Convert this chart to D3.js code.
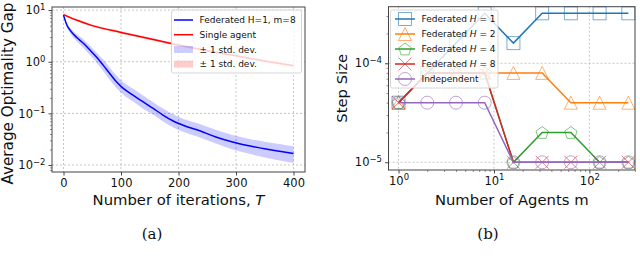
<!DOCTYPE html>
<html>
<head>
<meta charset="utf-8">
<script src="https://cdn.jsdelivr.net/npm/d3@7"></script>
<style>
  body { margin: 0; background: #fff; }
  svg { display: block; font-family: "DejaVu Sans", sans-serif; }
</style>
</head>
<body>
<div id="chart"></div>
<script>
// ---- panel (a): optimality gap vs iterations ----
const iterT      = [0, 6, 12, 23, 35, 46, 58, 69, 81, 92, 104, 121, 138, 156, 173, 190, 208, 237, 265, 294, 323, 352, 381, 400];
const fedMean    = [8.0, 5.1, 4.0, 2.95, 2.26, 1.68, 1.21, 0.86, 0.58, 0.41, 0.305, 0.226, 0.168, 0.125, 0.093, 0.072, 0.059, 0.046, 0.035, 0.028, 0.0236, 0.0204, 0.018, 0.0168];
const fedUpper   = [8.4, 5.6, 4.5, 3.4, 2.7, 2.05, 1.5, 1.1, 0.76, 0.54, 0.40, 0.30, 0.225, 0.165, 0.124, 0.097, 0.079, 0.062, 0.048, 0.038, 0.032, 0.028, 0.025, 0.023];
const fedLower   = [7.6, 4.6, 3.5, 2.5, 1.85, 1.35, 0.95, 0.66, 0.44, 0.31, 0.23, 0.17, 0.125, 0.094, 0.07, 0.054, 0.044, 0.034, 0.026, 0.02, 0.0165, 0.0138, 0.012, 0.011];

const singleT     = [0, 10, 26, 50, 100, 150, 200, 250, 300, 350, 400];
const singleMean  = [8.2, 7.3, 6.2, 5.0, 3.7, 2.8, 2.1, 1.63, 1.31, 1.03, 0.84];
const singleUpper = [8.5, 7.7, 6.5, 5.25, 3.9, 2.95, 2.2, 1.71, 1.37, 1.08, 0.88];
const singleLower = [7.9, 6.9, 5.9, 4.75, 3.5, 2.65, 2.0, 1.55, 1.25, 0.98, 0.80];

const iterTicks = [0, 100, 200, 300, 400];
const gapTicks  = [1e-2, 1e-1, 1, 10];

// ---- panel (b): step size vs number of agents ----
const agents   = [1, 2, 4, 8, 16, 32, 64, 128, 256];
const stepH1   = [4e-5, 8e-5, 1.6e-4, 3.2e-4, 1.6e-4, 3.2e-4, 3.2e-4, 3.2e-4, 3.2e-4];
const stepH2   = [4e-5, 8e-5, 8e-5, 8e-5, 8e-5, 8e-5, 4e-5, 4e-5, 4e-5];
const stepH4   = [4e-5, 8e-5, 8e-5, 8e-5, 1e-5, 2e-5, 2e-5, 1e-5, 1e-5];
const stepH8   = [4e-5, 8e-5, 8e-5, 8e-5, 1e-5, 1e-5, 1e-5, 1e-5, 1e-5];
const stepInd  = [4e-5, 4e-5, 4e-5, 4e-5, 1e-5, 1e-5, 1e-5, 1e-5, 1e-5];
const agentTicks = [1, 10, 100];
const stepTicks  = [1e-5, 1e-4];

const stepSeries = [
  { label: "H1", h: "1", values: stepH1, color: "#1f77b4", shape: "square" },
  { label: "H2", h: "2", values: stepH2, color: "#ff7f0e", shape: "triangle" },
  { label: "H4", h: "4", values: stepH4, color: "#2ca02c", shape: "pentagon" },
  { label: "H8", h: "8", values: stepH8, color: "#d62728", shape: "x" },
  { label: "Independent", h: null, values: stepInd, color: "#9467bd", shape: "circle" }
];

const width = 640, height = 265;
const svg = d3.select("#chart").append("svg")
  .attr("width", width)
  .attr("height", height);

const spine = "#444";
const gridColor = "#b8b8b8";

// superscript tick labels like 10^-4
function powLabel(sel) {
  sel.each(function(d) {
    const e = Math.round(Math.log10(d));
    const t = d3.select(this).text(null);
    t.append("tspan").text("10");
    t.append("tspan").attr("dy", "-0.5em").attr("font-size", "8.5px")
      .text(e < 0 ? "\u2212" + (-e) : String(e));
  });
}

function minorTicks(lo, hi) {
  const out = [];
  for (let e = lo; e <= hi; e++) {
    for (let k = 2; k <= 9; k++) out.push(k * Math.pow(10, e));
  }
  return out;
}

// marker shapes
function markerPath(shape) {
  const s = 6.5;
  if (shape === "square") return `M${-s},${-s}H${s}V${s}H${-s}Z`;
  if (shape === "triangle") return `M0,${-s}L${s},${s}L${-s},${s}Z`;
  if (shape === "pentagon") {
    const pts = d3.range(5).map(i => {
      const a = -Math.PI / 2 + i * 2 * Math.PI / 5;
      return [s * Math.cos(a), s * Math.sin(a) + 0.6];
    });
    return "M" + pts.map(p => p.join(",")).join("L") + "Z";
  }
  if (shape === "x") return `M${-s},${-s}L${s},${s}M${-s},${s}L${s},${-s}`;
  return d3.arc()({ innerRadius: 0, outerRadius: s, startAngle: 0, endAngle: 2 * Math.PI });
}

// =========== Panel (a) ===========
const ax = { left: 52, right: 305, top: 7, bottom: 172 };
const xA = d3.scaleLinear().domain([-20, 420]).range([ax.left, ax.right]);
const yA = d3.scaleLog().domain([Math.pow(10, -2.135), Math.pow(10, 1.06)]).range([ax.bottom, ax.top]);

const gA = svg.append("g");

// grid
gA.selectAll(".gx").data(iterTicks).join("line")
  .attr("x1", d => xA(d)).attr("x2", d => xA(d))
  .attr("y1", ax.top).attr("y2", ax.bottom)
  .attr("stroke", gridColor).attr("stroke-width", 0.8).attr("stroke-dasharray", "2,2");
gA.selectAll(".gy").data(gapTicks).join("line")
  .attr("x1", ax.left).attr("x2", ax.right)
  .attr("y1", d => yA(d)).attr("y2", d => yA(d))
  .attr("stroke", gridColor).attr("stroke-width", 0.8).attr("stroke-dasharray", "2,2");

// bands
const fedRows = iterT.map((t, i) => ({ t, m: fedMean[i], hi: fedUpper[i], lo: fedLower[i] }));
const singleRows = singleT.map((t, i) => ({ t, m: singleMean[i], hi: singleUpper[i], lo: singleLower[i] }));

const band = d3.area().x(d => xA(d.t)).y0(d => yA(d.lo)).y1(d => yA(d.hi)).curve(d3.curveMonotoneX);
const line = d3.line().x(d => xA(d.t)).y(d => yA(d.m)).curve(d3.curveMonotoneX);

gA.append("path").attr("d", band(fedRows)).attr("fill", "#0000ff").attr("fill-opacity", 0.2);
gA.append("path").attr("d", band(singleRows)).attr("fill", "#ff0000").attr("fill-opacity", 0.2);
gA.append("path").attr("d", line(fedRows)).attr("fill", "none").attr("stroke", "#0000ff").attr("stroke-width", 1.5);
gA.append("path").attr("d", line(singleRows)).attr("fill", "none").attr("stroke", "#ff0000").attr("stroke-width", 1.5);

// axes
gA.append("g").attr("transform", `translate(0,${ax.bottom})`)
  .call(d3.axisBottom(xA).tickValues(iterTicks).tickSize(3.5).tickPadding(3))
  .call(g => g.select(".domain").remove())
  .call(g => g.selectAll("text").attr("font-size", "11.5px").attr("fill", "#111").attr("font-family", "DejaVu Sans"))
  .call(g => g.selectAll("line").attr("stroke", spine));

gA.append("g").attr("transform", `translate(${ax.left},0)`)
  .call(d3.axisLeft(yA).tickValues(minorTicks(-3, 0).filter(v => v > yA.domain()[0] && v < yA.domain()[1])).tickSize(2).tickFormat(""))
  .call(g => g.select(".domain").remove())
  .call(g => g.selectAll("line").attr("stroke", spine).attr("stroke-width", 0.6));

gA.append("g").attr("transform", `translate(${ax.left},0)`)
  .call(d3.axisLeft(yA).tickValues(gapTicks).tickSize(3.5).tickPadding(3))
  .call(g => g.select(".domain").remove())
  .call(g => g.selectAll("text").attr("font-size", "11.5px").attr("fill", "#111").attr("font-family", "DejaVu Sans").call(powLabel))
  .call(g => g.selectAll("line").attr("stroke", spine));

gA.append("rect")
  .attr("x", ax.left).attr("y", ax.top)
  .attr("width", ax.right - ax.left).attr("height", ax.bottom - ax.top)
  .attr("fill", "none").attr("stroke", spine).attr("stroke-width", 1);

// labels
const xLabA = gA.append("text")
  .attr("x", (ax.left + ax.right) / 2).attr("y", 205)
  .attr("text-anchor", "middle").attr("font-size", "14.8px").attr("fill", "#111");
xLabA.append("tspan").text("Number of iterations, ");
xLabA.append("tspan").attr("font-style", "italic").text("T");

gA.append("text")
  .attr("transform", `translate(13,93.5) rotate(-90)`)
  .attr("text-anchor", "middle").attr("font-size", "15.2px").attr("fill", "#111")
  .text("Average Optimality Gap");

// legend
const legA = gA.append("g");
legA.append("rect")
  .attr("x", 171.5).attr("y", 10).attr("width", 130).attr("height", 63).attr("rx", 2)
  .attr("fill", "#fff").attr("fill-opacity", 0.8).attr("stroke", "#ccc").attr("stroke-width", 0.8);
const legAItems = [
  { kind: "line", color: "#0000ff", text: "Federated H=1, m=8" },
  { kind: "line", color: "#ff0000", text: "Single agent" },
  { kind: "patch", color: "#0000ff", text: "\u00b1 1 std. dev." },
  { kind: "patch", color: "#ff0000", text: "\u00b1 1 std. dev." }
];
legAItems.forEach((it, i) => {
  const y = 20 + i * 14.7;
  if (it.kind === "line") {
    legA.append("line").attr("x1", 174).attr("x2", 193).attr("y1", y).attr("y2", y)
      .attr("stroke", it.color).attr("stroke-width", 1.5);
  } else {
    legA.append("rect").attr("x", 174).attr("y", y - 3.5).attr("width", 19).attr("height", 7)
      .attr("fill", it.color).attr("fill-opacity", 0.2);
  }
  legA.append("text").attr("x", 199.5).attr("y", y).attr("dy", "0.35em")
    .attr("font-size", "9px").attr("fill", "#111").text(it.text);
});

// =========== Panel (b) ===========
const bx = { left: 388.5, right: 635, top: 6.7, bottom: 170 };
const xB = d3.scaleLog().domain([Math.pow(10, -0.105), Math.pow(10, 2.478)]).range([bx.left, bx.right]);
const yB = d3.scaleLog().domain([Math.pow(10, -5.078), Math.pow(10, -3.428)]).range([bx.bottom, bx.top]);

const gB = svg.append("g");

gB.selectAll(".gx").data(agentTicks).join("line")
  .attr("x1", d => xB(d)).attr("x2", d => xB(d))
  .attr("y1", bx.top).attr("y2", bx.bottom)
  .attr("stroke", gridColor).attr("stroke-width", 0.8).attr("stroke-dasharray", "2,2");
gB.selectAll(".gy").data(stepTicks).join("line")
  .attr("x1", bx.left).attr("x2", bx.right)
  .attr("y1", d => yB(d)).attr("y2", d => yB(d))
  .attr("stroke", gridColor).attr("stroke-width", 0.8).attr("stroke-dasharray", "2,2");

const lineB = d3.line().x(d => xB(d[0])).y(d => yB(d[1]));

stepSeries.forEach(s => {
  const pts = agents.map((m, i) => [m, s.values[i]]);
  gB.append("path").attr("d", lineB(pts)).attr("fill", "none")
    .attr("stroke", s.color).attr("stroke-width", 1.5);
  gB.selectAll(null).data(pts).join("path")
    .attr("transform", d => `translate(${xB(d[0])},${yB(d[1])})`)
    .attr("d", markerPath(s.shape))
    .attr("fill", "none").attr("stroke", s.color).attr("stroke-opacity", 0.6).attr("stroke-width", 1);
});

// axes
gB.append("g").attr("transform", `translate(0,${bx.bottom})`)
  .call(d3.axisBottom(xB).tickValues(minorTicks(0, 2).filter(v => v < xB.domain()[1])).tickSize(2).tickFormat(""))
  .call(g => g.select(".domain").remove())
  .call(g => g.selectAll("line").attr("stroke", spine).attr("stroke-width", 0.6));
gB.append("g").attr("transform", `translate(0,${bx.bottom})`)
  .call(d3.axisBottom(xB).tickValues(agentTicks).tickSize(3.5).tickPadding(3))
  .call(g => g.select(".domain").remove())
  .call(g => g.selectAll("text").attr("font-size", "11.5px").attr("fill", "#111").attr("font-family", "DejaVu Sans").call(powLabel))
  .call(g => g.selectAll("line").attr("stroke", spine));

gB.append("g").attr("transform", `translate(${bx.left},0)`)
  .call(d3.axisLeft(yB).tickValues(minorTicks(-5, -4).filter(v => v < yB.domain()[1])).tickSize(2).tickFormat(""))
  .call(g => g.select(".domain").remove())
  .call(g => g.selectAll("line").attr("stroke", spine).attr("stroke-width", 0.6));
gB.append("g").attr("transform", `translate(${bx.left},0)`)
  .call(d3.axisLeft(yB).tickValues(stepTicks).tickSize(3.5).tickPadding(3))
  .call(g => g.select(".domain").remove())
  .call(g => g.selectAll("text").attr("font-size", "11.5px").attr("fill", "#111").attr("font-family", "DejaVu Sans").call(powLabel))
  .call(g => g.selectAll("line").attr("stroke", spine));

gB.append("rect")
  .attr("x", bx.left).attr("y", bx.top)
  .attr("width", bx.right - bx.left).attr("height", bx.bottom - bx.top)
  .attr("fill", "none").attr("stroke", spine).attr("stroke-width", 1);

gB.append("text")
  .attr("x", (bx.left + bx.right) / 2).attr("y", 205)
  .attr("text-anchor", "middle").attr("font-size", "14.8px").attr("fill", "#111")
  .text("Number of Agents m");

gB.append("text")
  .attr("transform", `translate(347,${(bx.top + bx.bottom) / 2}) rotate(-90)`)
  .attr("text-anchor", "middle").attr("font-size", "14.8px").attr("fill", "#111")
  .text("Step Size");

// legend
const legB = gB.append("g");
legB.append("rect")
  .attr("x", 390.5).attr("y", 10).attr("width", 107.5).attr("height", 78).attr("rx", 2)
  .attr("fill", "#fff").attr("fill-opacity", 0.8).attr("stroke", "#ccc").attr("stroke-width", 0.8);
stepSeries.forEach((s, i) => {
  const y = 19 + i * 15;
  legB.append("line").attr("x1", 395).attr("x2", 415).attr("y1", y).attr("y2", y)
    .attr("stroke", s.color).attr("stroke-width", 1.5);
  legB.append("path").attr("transform", `translate(405,${y})`).attr("d", markerPath(s.shape))
    .attr("fill", "none").attr("stroke", s.color).attr("stroke-opacity", 0.6).attr("stroke-width", 1);
  const t = legB.append("text").attr("x", 421.5).attr("y", y).attr("dy", "0.35em")
    .attr("font-size", "9px").attr("fill", "#111");
  if (s.h) {
    t.append("tspan").text("Federated ");
    t.append("tspan").attr("font-style", "italic").text("H");
    t.append("tspan").text(" = " + s.h);
  } else {
    t.text(s.label);
  }
});

// captions
svg.append("text").attr("x", 152).attr("y", 239).attr("text-anchor", "middle")
  .attr("font-family", "DejaVu Serif, serif").attr("font-size", "15px").attr("fill", "#111").text("(a)");
svg.append("text").attr("x", 488).attr("y", 239).attr("text-anchor", "middle")
  .attr("font-family", "DejaVu Serif, serif").attr("font-size", "15px").attr("fill", "#111").text("(b)");
</script>
</body>
</html>
